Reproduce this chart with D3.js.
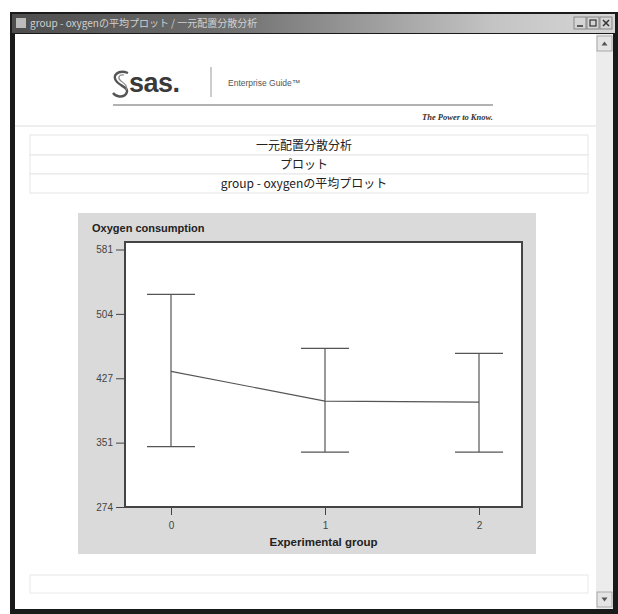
<!DOCTYPE html>
<html>
<head>
<meta charset="utf-8">
<script src="https://cdn.jsdelivr.net/npm/d3@7"></script>
<style>
  html, body { margin: 0; padding: 0; background: #fff; }
  svg { display: block; }
  .sans { font-family: "Liberation Sans", Arial, sans-serif; }
  .jp { font-family: "Noto Sans CJK JP", sans-serif; }
</style>
</head>
<body>
<svg id="page" width="618" height="614"></svg>
<script>
// Group means of oxygen consumption with the ends of their error bars
const groups = [0, 1, 2];
const meanValues = [435.7, 400.3, 399.1];
const lowerValues = [345.9, 339.5, 339.5];
const upperValues = [527.5, 463.1, 457.2];
const yTickLabels = ["274", "351", "427", "504", "581"];
const yTickValues = [274, 350.75, 427.5, 504.25, 581];
const xTickLabels = ["0", "1", "2"];

const windowTitle = "group - oxygenの平均プロット / 一元配置分散分析";
const titleLines = ["一元配置分散分析", "プロット", "group - oxygenの平均プロット"];
const yAxisTitle = "Oxygen consumption";
const xAxisTitle = "Experimental group";

const svg = d3.select("#page");

// ---- window frame ----
const defs = svg.append("defs");
const grad = defs.append("linearGradient").attr("id", "titlebar")
  .attr("x1", "0%").attr("x2", "100%");
grad.append("stop").attr("offset", "0%").attr("stop-color", "#4d4d4d");
grad.append("stop").attr("offset", "35%").attr("stop-color", "#6e6e6e");
grad.append("stop").attr("offset", "80%").attr("stop-color", "#c4c4c4");
grad.append("stop").attr("offset", "100%").attr("stop-color", "#d6d6d6");

svg.append("rect").attr("x", 10).attr("y", 12).attr("width", 608).attr("height", 602).attr("fill", "#1a1a1a");
svg.append("rect").attr("x", 12).attr("y", 14).attr("width", 603).attr("height", 19).attr("fill", "url(#titlebar)");
svg.append("text").attr("class", "jp").attr("x", 30).attr("y", 27)
  .attr("font-size", 10).attr("fill", "#d0d0d0").text(windowTitle);
// small window icon
svg.append("rect").attr("x", 16).attr("y", 18).attr("width", 10).attr("height", 10).attr("fill", "#bbb");

// caption buttons
const btnX = [574, 587, 600];
btnX.forEach((bx) => {
  svg.append("rect").attr("x", bx).attr("y", 17).attr("width", 12).attr("height", 12)
    .attr("fill", "#d4d4d4").attr("stroke", "#777").attr("stroke-width", 0.8);
});
svg.append("line").attr("x1", 577).attr("x2", 583).attr("y1", 26).attr("y2", 26).attr("stroke", "#333").attr("stroke-width", 1.5);
svg.append("rect").attr("x", 590).attr("y", 20).attr("width", 6).attr("height", 6).attr("fill", "none").attr("stroke", "#333").attr("stroke-width", 1.2);
svg.append("path").attr("d", "M603,20L609,26M609,20L603,26").attr("stroke", "#333").attr("stroke-width", 1.5);

// client area
svg.append("rect").attr("x", 15).attr("y", 34).attr("width", 598).attr("height", 575).attr("fill", "#fff");

// vertical scrollbar
svg.append("rect").attr("x", 596).attr("y", 34).attr("width", 17).attr("height", 575).attr("fill", "#ececec");
[[597, 36], [597, 592]].forEach(([sx, sy], i) => {
  svg.append("rect").attr("x", sx).attr("y", sy).attr("width", 15).attr("height", 15)
    .attr("fill", "#e4e4e4").attr("stroke", "#999").attr("stroke-width", 0.8);
  const cx = sx + 7.5, cy = sy + 7.5;
  const d = i === 0 ? `M${cx - 3},${cy + 2}L${cx + 3},${cy + 2}L${cx},${cy - 2}Z`
                    : `M${cx - 3},${cy - 2}L${cx + 3},${cy - 2}L${cx},${cy + 2}Z`;
  svg.append("path").attr("d", d).attr("fill", "#555");
});

// ---- report header ----
// swoosh mark
svg.append("path")
  .attr("d", "M128,73 C118,69 111,76 117,82 C122,87 130,88 126,94 C123,98 116,97 113,93")
  .attr("fill", "none").attr("stroke", "#555").attr("stroke-width", 2.4);
svg.append("path")
  .attr("d", "M124,75 C119,74 117,78 121,81 C125,84 128,86 126,90")
  .attr("fill", "none").attr("stroke", "#888").attr("stroke-width", 1.2);
svg.append("text").attr("class", "sans").attr("x", 129).attr("y", 92)
  .attr("font-size", 27).attr("font-weight", "bold").attr("letter-spacing", -0.5)
  .attr("fill", "#3a3a3a").text("sas.");
svg.append("line").attr("x1", 211).attr("x2", 211).attr("y1", 67).attr("y2", 97)
  .attr("stroke", "#aaa").attr("stroke-width", 1.2);
svg.append("text").attr("class", "sans").attr("x", 228).attr("y", 86)
  .attr("font-size", 8.5).attr("fill", "#555").text("Enterprise Guide™");
svg.append("line").attr("x1", 113).attr("x2", 493).attr("y1", 105).attr("y2", 105)
  .attr("stroke", "#999").attr("stroke-width", 1.4);
svg.append("text").attr("x", 493).attr("y", 120).attr("text-anchor", "end")
  .attr("font-family", "'Liberation Serif', serif").attr("font-style", "italic").attr("font-weight", "bold")
  .attr("font-size", 8.5).attr("fill", "#333").text("The Power to Know.");
svg.append("line").attr("x1", 15).attr("x2", 596).attr("y1", 126).attr("y2", 126)
  .attr("stroke", "#eeeeee").attr("stroke-width", 2);

// title rows
const rowTops = [135, 155, 174];
const rowH = [20, 19, 19];
titleLines.forEach((t, i) => {
  svg.append("rect").attr("x", 30).attr("y", rowTops[i]).attr("width", 558).attr("height", rowH[i])
    .attr("fill", "#fff").attr("stroke", "#e6e6e6").attr("stroke-width", 1);
  svg.append("text").attr("class", "jp").attr("x", 304).attr("y", rowTops[i] + rowH[i] / 2 + 4.5)
    .attr("text-anchor", "middle").attr("font-size", 12).attr("fill", "#222").text(t);
});

// footer box
svg.append("rect").attr("x", 30).attr("y", 575).attr("width", 558).attr("height", 18)
  .attr("fill", "#fff").attr("stroke", "#e8e8e8");

// ---- the mean plot ----
svg.append("rect").attr("x", 78).attr("y", 213).attr("width", 458).attr("height", 341).attr("fill", "#dadada");

const frame = { left: 125, right: 522, top: 242, bottom: 507 };
const x = d3.scaleLinear().domain([0, 2]).range([171, 479]);
const y = d3.scaleLinear().domain([274, 581]).range([frame.bottom, 249.5]);

svg.append("rect").attr("x", frame.left).attr("y", frame.top)
  .attr("width", frame.right - frame.left).attr("height", frame.bottom - frame.top)
  .attr("fill", "#fff").attr("stroke", "#444").attr("stroke-width", 2);

svg.append("text").attr("class", "sans").attr("x", 92).attr("y", 232)
  .attr("font-size", 11).attr("font-weight", "bold").attr("fill", "#222").text(yAxisTitle);

const yAxis = d3.axisLeft(y).tickValues(yTickValues).tickSize(9).tickPadding(3)
  .tickFormat((d, i) => yTickLabels[i]);
const gy = svg.append("g").attr("transform", `translate(${frame.left},0)`).call(yAxis);
gy.select(".domain").remove();
gy.selectAll("line").attr("stroke", "#444");
gy.selectAll("text").attr("class", "sans").attr("font-size", 10).attr("fill", "#444");

const xAxis = d3.axisBottom(x).tickValues(groups).tickSize(8).tickPadding(7)
  .tickFormat((d, i) => xTickLabels[i]);
const gx = svg.append("g").attr("transform", `translate(0,${frame.bottom})`).call(xAxis);
gx.select(".domain").remove();
gx.selectAll("line").attr("stroke", "#444");
gx.selectAll("text").attr("class", "sans").attr("font-size", 10).attr("fill", "#444");

svg.append("text").attr("class", "sans").attr("x", (frame.left + frame.right) / 2).attr("y", 546)
  .attr("text-anchor", "middle").attr("font-size", 11.5).attr("font-weight", "bold").attr("fill", "#222")
  .text(xAxisTitle);

// line through the group means
const meanLine = d3.line().x((d, i) => x(groups[i])).y(d => y(d));
svg.append("path").datum(meanValues).attr("d", meanLine)
  .attr("fill", "none").attr("stroke", "#555").attr("stroke-width", 1.2);

// error bars
const capHalf = 24;
const bars = svg.append("g").attr("stroke", "#555").attr("stroke-width", 1.2);
groups.forEach((g, i) => {
  bars.append("line").attr("x1", x(g)).attr("x2", x(g)).attr("y1", y(lowerValues[i])).attr("y2", y(upperValues[i]));
  bars.append("line").attr("x1", x(g) - capHalf).attr("x2", x(g) + capHalf).attr("y1", y(upperValues[i])).attr("y2", y(upperValues[i]));
  bars.append("line").attr("x1", x(g) - capHalf).attr("x2", x(g) + capHalf).attr("y1", y(lowerValues[i])).attr("y2", y(lowerValues[i]));
});
</script>
</body>
</html>
